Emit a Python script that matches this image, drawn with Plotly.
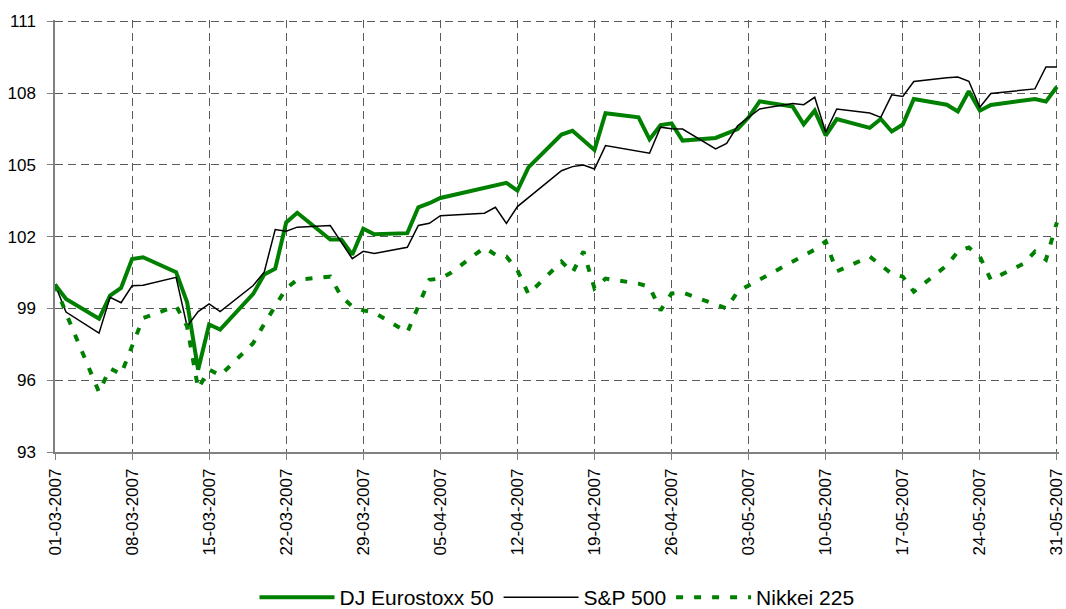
import plotly.graph_objects as go

# ---- Data (indexed, 01-03-2007 = 100) ----
euro_dates = ["2007-03-01","2007-03-02","2007-03-05","2007-03-06","2007-03-07","2007-03-08","2007-03-09",
              "2007-03-12","2007-03-13","2007-03-14","2007-03-15","2007-03-16","2007-03-19","2007-03-20",
              "2007-03-21","2007-03-22","2007-03-23","2007-03-26","2007-03-27","2007-03-28","2007-03-29",
              "2007-03-30","2007-04-02","2007-04-03","2007-04-04","2007-04-05","2007-04-11","2007-04-12",
              "2007-04-13","2007-04-16","2007-04-17","2007-04-19","2007-04-20","2007-04-23","2007-04-24",
              "2007-04-25","2007-04-26","2007-04-27","2007-04-30","2007-05-02","2007-05-03","2007-05-04",
              "2007-05-07","2007-05-08","2007-05-09","2007-05-10","2007-05-11","2007-05-14","2007-05-15",
              "2007-05-16","2007-05-17","2007-05-18","2007-05-21","2007-05-22","2007-05-23","2007-05-24",
              "2007-05-25","2007-05-29","2007-05-30","2007-05-31"]
euro_values = [100.0, 99.4, 98.57, 99.54, 99.86, 101.07, 101.14,
               100.52, 99.26, 96.44, 98.33, 98.12, 99.61, 100.42,
               100.66, 102.6, 103.0, 101.88, 101.88, 101.25, 102.33,
               102.1, 102.15, 103.23, 103.4, 103.62, 104.25, 103.93,
               104.9, 106.27, 106.43, 105.63, 107.16, 106.99, 106.07,
               106.67, 106.74, 106.02, 106.13, 106.5, 106.99, 107.66,
               107.44, 106.7, 107.27, 106.23, 106.92, 106.55, 106.92,
               106.4, 106.69, 107.76, 107.52, 107.24, 108.08, 107.27,
               107.51, 107.76, 107.65, 108.27]

sp_dates = ["2007-03-01","2007-03-02","2007-03-05","2007-03-06","2007-03-07","2007-03-08","2007-03-09",
            "2007-03-12","2007-03-13","2007-03-14","2007-03-15","2007-03-16","2007-03-19","2007-03-20",
            "2007-03-21","2007-03-22","2007-03-23","2007-03-26","2007-03-28","2007-03-29","2007-03-30",
            "2007-04-02","2007-04-03","2007-04-04","2007-04-05","2007-04-09","2007-04-10","2007-04-11",
            "2007-04-12","2007-04-16","2007-04-17","2007-04-18","2007-04-19","2007-04-20","2007-04-24",
            "2007-04-25","2007-04-26","2007-04-27","2007-04-30","2007-05-01","2007-05-02","2007-05-04",
            "2007-05-07","2007-05-08","2007-05-09","2007-05-10","2007-05-11","2007-05-14","2007-05-15",
            "2007-05-16","2007-05-17","2007-05-18","2007-05-21","2007-05-22","2007-05-23","2007-05-24",
            "2007-05-25","2007-05-29","2007-05-30","2007-05-31"]
sp_values = [100.0, 98.85, 97.97, 99.47, 99.24, 99.95, 99.97,
             100.3, 98.25, 98.87, 99.19, 98.87, 99.96, 100.52,
             102.3, 102.23, 102.4, 102.47, 101.08, 101.39, 101.3,
             101.56, 102.47, 102.56, 102.88, 102.98, 103.23, 102.56,
             103.26, 104.76, 104.93, 105.0, 104.83, 105.81, 105.49,
             106.58, 106.51, 106.5, 105.67, 105.9, 106.64, 107.34,
             107.57, 107.52, 107.83, 106.37, 107.34, 107.17, 106.99,
             107.93, 107.86, 108.49, 108.65, 108.68, 108.5, 107.41,
             107.99, 108.18, 109.1, 109.1]

nikkei_dates = ["2007-03-01","2007-03-02","2007-03-05","2007-03-06","2007-03-07","2007-03-08","2007-03-09",
                "2007-03-12","2007-03-13","2007-03-14","2007-03-15","2007-03-16","2007-03-19","2007-03-20",
                "2007-03-22","2007-03-23","2007-03-26","2007-03-27","2007-03-28","2007-03-29","2007-03-30",
                "2007-04-02","2007-04-03","2007-04-04","2007-04-05","2007-04-06","2007-04-09","2007-04-10",
                "2007-04-11","2007-04-12","2007-04-13","2007-04-16","2007-04-17","2007-04-18","2007-04-19",
                "2007-04-20","2007-04-23","2007-04-24","2007-04-25","2007-04-26","2007-04-27","2007-05-01",
                "2007-05-02","2007-05-07","2007-05-08","2007-05-09","2007-05-10","2007-05-11","2007-05-14",
                "2007-05-15","2007-05-16","2007-05-17","2007-05-18","2007-05-21","2007-05-22","2007-05-23",
                "2007-05-24","2007-05-25","2007-05-28","2007-05-29","2007-05-30","2007-05-31"]
nikkei_values = [100.0, 98.8, 95.5, 96.5, 96.25, 97.4, 98.6,
                 99.1, 98.25, 95.65, 96.45, 96.2, 97.55, 98.35,
                 99.84, 100.2, 100.33, 99.5, 99.08, 98.92, 98.83,
                 98.0, 99.1, 100.2, 100.25, 100.5, 101.55, 101.25,
                 101.17, 100.6, 99.6, 100.96, 100.5, 101.38, 99.84,
                 100.25, 100.04, 99.9, 98.92, 99.63, 99.67, 99.0,
                 99.71, 100.96, 101.2, 101.46, 101.8, 100.55, 101.17,
                 100.8, 100.45, 100.33, 99.7, 100.8, 101.38, 101.55,
                 101.17, 100.2, 100.88, 101.38, 101.04, 102.6]

tick_dates = ["2007-03-01","2007-03-08","2007-03-15","2007-03-22","2007-03-29","2007-04-05","2007-04-12",
              "2007-04-19","2007-04-26","2007-05-03","2007-05-10","2007-05-17","2007-05-24","2007-05-31"]
tick_labels = ["01-03-2007","08-03-2007","15-03-2007","22-03-2007","29-03-2007","05-04-2007","12-04-2007",
               "19-04-2007","26-04-2007","03-05-2007","10-05-2007","17-05-2007","24-05-2007","31-05-2007"]
y_ticks = [93, 96, 99, 102, 105, 108, 111]

GREEN = "#008000"
FONT = "Liberation Sans, Arial, sans-serif"

fig = go.Figure()
fig.add_trace(go.Scatter(x=euro_dates, y=euro_values, mode="lines", name="DJ Eurostoxx 50",
                         line=dict(color=GREEN, width=4)))
fig.add_trace(go.Scatter(x=sp_dates, y=sp_values, mode="lines", name="S&P 500",
                         line=dict(color="black", width=1.5)))
fig.add_trace(go.Scatter(x=nikkei_dates, y=nikkei_values, mode="lines", name="Nikkei 225",
                         line=dict(color=GREEN, width=4, dash="7px,11px")))

fig.update_xaxes(type="date", range=["2007-03-01", "2007-05-31 04:30"],
                 tickvals=tick_dates, ticktext=tick_labels, tickangle=-90,
                 showgrid=True, gridcolor="#5a5a5a", griddash="8px,5px", gridwidth=1,
                 showline=True, linecolor="#808080", linewidth=1.5,
                 ticks="outside", ticklen=6, tickcolor="#808080", tickwidth=1,
                 ticklabelstandoff=2, automargin=False, ticklabeloverflow="allow",
                 tickfont=dict(family=FONT, size=17, color="black"), zeroline=False)
fig.update_yaxes(range=[93, 111.06], tickvals=y_ticks,
                 showgrid=True, gridcolor="#5a5a5a", griddash="8px,5px", gridwidth=1,
                 showline=True, linecolor="#808080", linewidth=1.5,
                 ticks="outside", ticklen=6, tickcolor="#808080", tickwidth=1,
                 ticklabelstandoff=8, automargin=False,
                 tickfont=dict(family=FONT, size=17, color="black"), zeroline=False)

fig.update_layout(width=1066, height=609,
                  margin=dict(l=55, r=7, t=20, b=157, autoexpand=False),
                  plot_bgcolor="white", paper_bgcolor="white",
                  font=dict(family=FONT, color="black"),
                  showlegend=True,
                  legend=dict(orientation="h", x=0.5, xanchor="center", y=-0.337, yanchor="middle",
                              font=dict(family=FONT, size=21, color="black"),
                              itemwidth=75, bgcolor="rgba(0,0,0,0)"))

# remove the browser's default 8px body margin so the figure sits at the page origin
fig.write_html("out.html",
               config={"displayModeBar": False},
               post_script="document.body.style.margin='0';document.documentElement.style.overflow='hidden';")
